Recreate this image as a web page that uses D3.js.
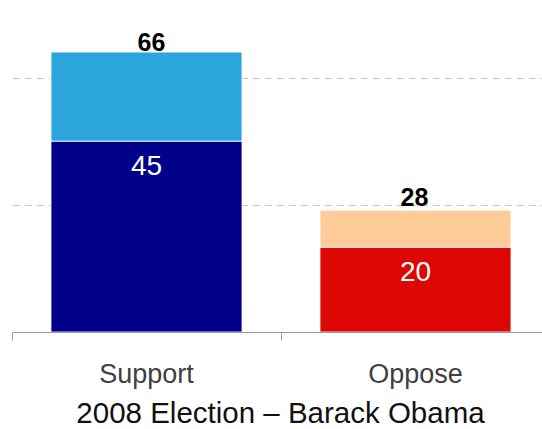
<!DOCTYPE html>
<html>
<head>
<meta charset="utf-8">
<script src="https://cdn.jsdelivr.net/npm/d3@7"></script>
<style>
  html, body { margin: 0; padding: 0; background: #fff; }
  svg { display: block; font-family: "Liberation Sans", Arial, sans-serif; }
</style>
</head>
<body>
<svg id="chart" width="542" height="429"></svg>
<script>
const categories = ["Support", "Oppose"];
const lowerValues = [45, 20];
const upperValues = [21, 8.7];
const totalLabels = ["66", "28"];
const lowerLabels = ["45", "20"];
const gridValues = [30, 60];
const lowerColors = ["#00008b", "#dd0806"];
const upperColors = ["#2ca5dc", "#ffcc99"];
const title = "2008 Election \u2013 Barack Obama";

const svg = d3.select("#chart");
const W = 542, H = 429;
const baseY = 332, plotTop = 51;

const x = d3.scaleBand().domain(categories).range([12, 550]).padding(0);
const y = d3.scaleLinear().domain([0, 60]).range([baseY, 77.5]);
const barPad = 0.145;
const bw = x.bandwidth();

// gridlines
svg.append("g").selectAll("line").data(gridValues).join("line")
  .attr("x1", 13).attr("x2", W)
  .attr("y1", d => Math.round(y(d)) + 0.5).attr("y2", d => Math.round(y(d)) + 0.5)
  .attr("stroke", "#c8c8c8").attr("stroke-width", 1)
  .attr("stroke-dasharray", "7,5");

const data = categories.map((c, i) => ({
  c, lo: lowerValues[i], up: upperValues[i], total: totalLabels[i], loLabel: lowerLabels[i],
  loColor: lowerColors[i], upColor: upperColors[i]
}));

const bars = svg.append("g");
// lower segment
bars.selectAll("rect.lo").data(data).join("rect").attr("class", "lo")
  .attr("x", d => x(d.c) + bw * barPad)
  .attr("width", bw * (1 - 2 * barPad))
  .attr("y", d => y(d.lo))
  .attr("height", d => y(0) - y(d.lo))
  .attr("fill", d => d.loColor)
  .attr("stroke", "#ffffff").attr("stroke-opacity", 0.8).attr("stroke-width", 1);
// upper segment
bars.selectAll("rect.up").data(data).join("rect").attr("class", "up")
  .attr("x", d => x(d.c) + bw * barPad)
  .attr("width", bw * (1 - 2 * barPad))
  .attr("y", d => y(d.lo + d.up))
  .attr("height", d => y(d.lo) - y(d.lo + d.up))
  .attr("fill", d => d.upColor)
  .attr("stroke", "#ffffff").attr("stroke-opacity", 0.8).attr("stroke-width", 1);

// inner labels
svg.append("g").selectAll("text").data(data).join("text")
  .attr("x", d => x(d.c) + bw / 2)
  .attr("y", d => y(d.lo) + 34)
  .attr("text-anchor", "middle")
  .attr("fill", "#ffffff")
  .attr("font-size", 28)
  .text(d => d.loLabel);

// total labels (the top one is clamped to the plot top and nudged right)
svg.append("g").selectAll("text").data(data).join("text")
  .attr("x", d => x(d.c) + bw / 2)
  .attr("dx", d => (y(+d.total) - 7 < plotTop ? 5 : -1))
  .attr("y", d => Math.max(y(+d.total) - 7, plotTop))
  .attr("text-anchor", "middle")
  .attr("fill", "#000000")
  .attr("font-size", 25)
  .attr("font-weight", "bold")
  .text(d => d.total);

// axis
const axis = d3.axisBottom(x).tickSize(0).tickPadding(0);
const gAxis = svg.append("g").attr("transform", `translate(0,${baseY + 0.5})`).call(axis);
gAxis.select(".domain").attr("stroke", "#9a9a9a").attr("d", `M12.5,8V0H${W}`);
gAxis.selectAll(".tick line").remove();
gAxis.selectAll(".tick text").attr("font-size", 27).attr("fill", "#404040")
  .attr("font-family", "Liberation Sans, Arial, sans-serif")
  .attr("dy", 0).attr("y", 50);
// boundary ticks
const boundaries = categories.map(c => x(c)).slice(1);
gAxis.append("g").selectAll("line").data(boundaries).join("line")
  .attr("x1", d => Math.round(d) + 0.5).attr("x2", d => Math.round(d) + 0.5)
  .attr("y1", 0).attr("y2", 8).attr("stroke", "#9a9a9a");

// title
svg.append("text")
  .attr("x", 280.5).attr("y", 422.5)
  .attr("text-anchor", "middle")
  .attr("fill", "#111111")
  .attr("font-size", 29.5)
  .text(title);
</script>
</body>
</html>
